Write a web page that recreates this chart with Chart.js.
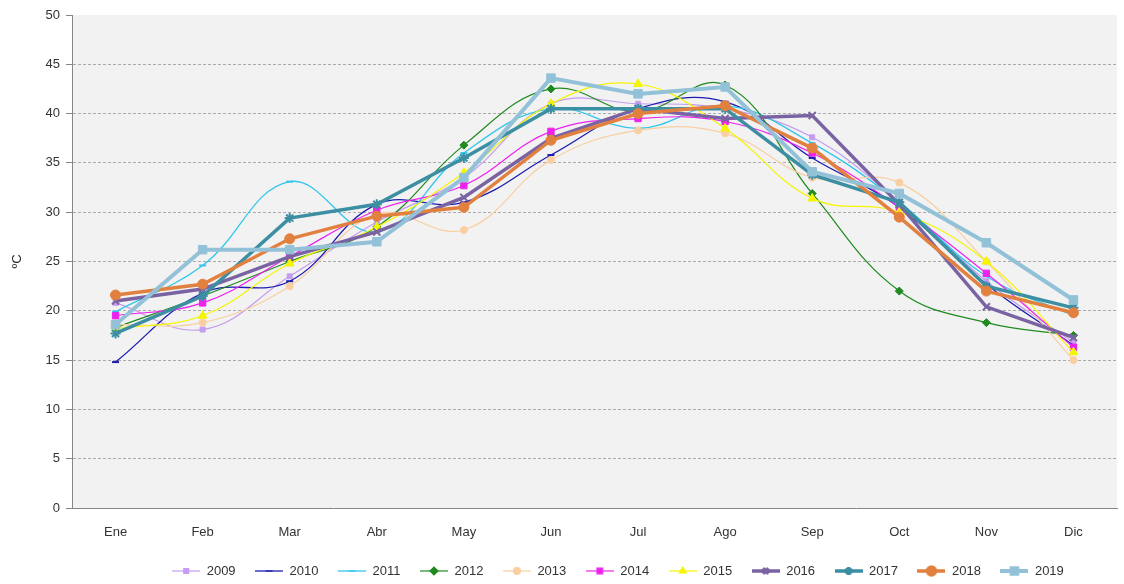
<!DOCTYPE html>
<html><head><meta charset="utf-8">
<script src="https://cdn.jsdelivr.net/npm/chart.js@4/dist/chart.umd.min.js"></script>
<style>html,body{margin:0;padding:0;background:#fff;}#wrap{width:1124px;height:584px;}</style>
</head><body><div id="wrap"><canvas id="c" width="1124" height="584"></canvas></div>
<script>
const months = ['Ene','Feb','Mar','Abr','May','Jun','Jul','Ago','Sep','Oct','Nov','Dic'];
const years = ['2009','2010','2011','2012','2013','2014','2015','2016','2017','2018','2019'];
const yTicks = [0,5,10,15,20,25,30,35,40,45,50];
const t2009 = [20.8,18.1,23.5,29.0,33.5,41.0,41.0,40.5,37.6,31.0,23.0,16.8];
const t2010 = [14.8,21.8,23.0,30.8,31.0,35.8,40.5,41.2,35.5,30.5,22.7,16.5];
const t2011 = [19.9,24.6,33.1,28.0,36.0,40.5,38.5,40.8,37.0,31.0,23.5,19.5];
const t2012 = [18.3,21.5,25.0,28.5,36.8,42.5,40.2,42.9,31.9,22.0,18.8,17.5];
const t2013 = [18.6,18.8,22.5,29.8,28.2,35.3,38.3,38.0,33.5,33.0,25.0,15.0];
const t2014 = [19.5,20.8,25.5,30.2,32.7,38.2,39.5,39.2,36.0,30.5,23.8,16.3];
const t2015 = [18.2,19.5,24.8,28.5,34.0,41.0,43.0,38.5,31.4,30.0,25.0,15.8];
const t2016 = [21.0,22.2,25.5,28.0,31.5,37.5,40.5,39.5,39.8,30.8,20.4,17.3];
const t2017 = [17.7,21.5,29.4,30.8,35.5,40.5,40.5,40.5,33.8,31.0,22.5,20.3];
const t2018 = [21.6,22.7,27.3,29.6,30.5,37.3,40.0,40.8,36.5,29.5,22.0,19.8];
const t2019 = [18.6,26.2,26.2,27.0,33.5,43.6,42.0,42.7,34.1,31.9,26.9,21.1];
const seriesValues = [t2009,t2010,t2011,t2012,t2013,t2014,t2015,t2016,t2017,t2018,t2019];

const styles = [
  {c:'#c49cf0', w:1.2, p:'rect', r:3.5, t:0.4},
  {c:'#1c1cb0', w:1.3, p:'line', r:3.5, t:0.4},
  {c:'#33c6ec', w:1.3, p:'line', r:3.5, t:0.4},
  {c:'#1f8a1f', w:1.2, p:'rectRot', r:4, t:0.4},
  {c:'#f9cfa2', w:1.2, p:'circle', r:3.5, t:0.4},
  {c:'#ee22ee', w:1.2, p:'rect', r:4.5, t:0.4},
  {c:'#f5f500', w:1.2, p:'triangle', r:5, t:0.4},
  {c:'#7a63a3', w:3.5, p:'crossRot', r:5, t:0},
  {c:'#3c8fa3', w:3.5, p:'star', r:5, t:0},
  {c:'#e2803f', w:3.5, p:'circle', r:5, t:0},
  {c:'#93c2d8', w:4, p:'rect', r:6, t:0}
];

const datasets = years.map((y,i)=>({
  label: y,
  data: seriesValues[i],
  borderColor: styles[i].c,
  backgroundColor: styles[i].c,
  borderWidth: styles[i].w,
  pointStyle: styles[i].p,
  pointRadius: styles[i].r,
  pointBorderWidth: styles[i].p==='line'||styles[i].p==='crossRot'||styles[i].p==='star' ? 2 : 1,
  pointBackgroundColor: styles[i].c,
  pointBorderColor: styles[i].c,
  tension: styles[i].t,
  order: years.length - 1 - i
}));

function legendIcon(i){
  const s = styles[i];
  const cv = document.createElement('canvas');
  cv.width = 28; cv.height = 14;
  const ctx = cv.getContext('2d');
  ctx.strokeStyle = s.c; ctx.lineWidth = s.w;
  ctx.beginPath(); ctx.moveTo(0,7); ctx.lineTo(28,7); ctx.stroke();
  ctx.fillStyle = s.c;
  if (Chart.helpers && Chart.helpers.drawPoint) {
    Chart.helpers.drawPoint(ctx, {pointStyle: s.p, radius: Math.min(s.r,4), borderWidth: 1.5, rotation: 0}, 14, 7);
  }
  return cv;
}

const bgPlugin = {
  id: 'plotBg',
  beforeDraw(chart){
    const a = chart.chartArea, ctx = chart.ctx;
    ctx.save(); ctx.fillStyle = '#f2f2f2';
    ctx.fillRect(a.left, a.top, a.right - a.left, a.bottom - a.top);
    ctx.restore();
  }
};
const legendShift = {
  id: 'legendShift',
  afterLayout(chart){
    const l = chart.legend; if (!l) return;
    l.left += 59; l.right += 59; l.top += 3.5; l.bottom += 3.5;
  }
};

new Chart(document.getElementById('c'), {
  type: 'line',
  data: { labels: months, datasets },
  plugins: [bgPlugin, legendShift],
  options: {
    responsive: false,
    animation: false,
    layout: { padding: { top: 15, right: 6, left: 0, bottom: 0 } },
    plugins: {
      tooltip: { enabled: false },
      legend: {
        position: 'bottom',
        labels: {
          usePointStyle: true,
          pointStyleWidth: 28,
          boxHeight: 13,
          padding: 19.5,
          color: '#333',
          font: { family: 'Liberation Sans, Arial, sans-serif', size: 13 },
          sort: (a, b) => a.datasetIndex - b.datasetIndex,
          generateLabels(chart){
            const items = Chart.defaults.plugins.legend.labels.generateLabels(chart);
            items.forEach(it => { it.pointStyle = legendIcon(it.datasetIndex); });
            return items;
          }
        }
      }
    },
    scales: {
      x: {
        offset: true,
        grid: { display: false },
        border: { display: true, color: '#868686', width: 1 },
        ticks: { padding: 9, color: '#333', font: { family: 'Liberation Sans, Arial, sans-serif', size: 13 } },
        afterFit(scale){ scale.height = 33.5; }
      },
      y: {
        min: 0, max: 50,
        afterBuildTicks(scale){ scale.ticks = yTicks.map(v=>({value:v})); },
        grid: {
          color: ctx => (ctx.tick && (ctx.tick.value === 0 || ctx.tick.value === 50)) ? 'rgba(0,0,0,0)' : '#ababab',
          lineWidth: 1,
          drawTicks: true,
          tickLength: 6,
          tickColor: '#868686'
        },
        border: { display: true, color: '#868686', width: 1, dash: [3,2] },
        ticks: { padding: 6, color: '#333', font: { family: 'Liberation Sans, Arial, sans-serif', size: 13 } },
        title: { display: true, text: 'ºC', color: '#222', padding: { top: 10, bottom: 0 }, font: { family: 'Liberation Sans, Arial, sans-serif', size: 13 } },
        afterFit(scale){ scale.width = 72; }
      }
    }
  }
});
</script>
</body></html>
